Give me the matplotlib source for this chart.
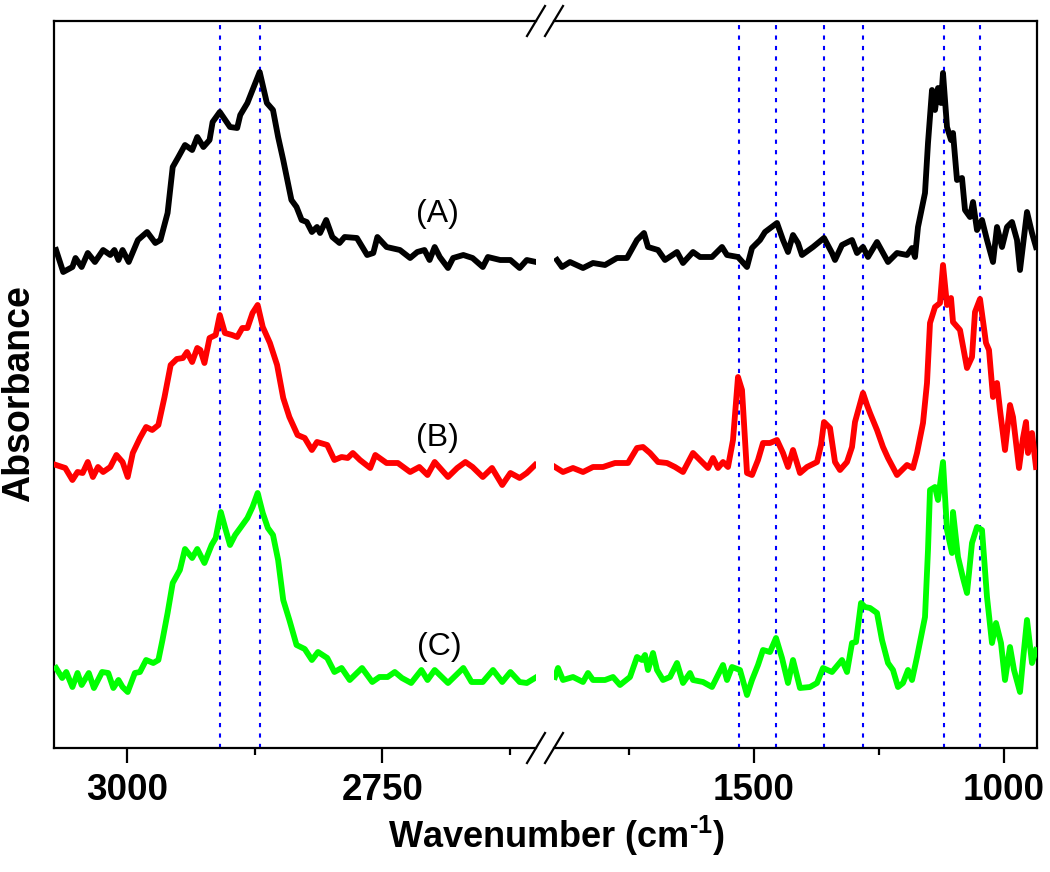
import matplotlib
matplotlib.use("Agg")
import matplotlib.pyplot as plt
from matplotlib.lines import Line2D

plt.rcParams['font.family'] = ['Liberation Sans', 'DejaVu Sans']
plt.rcParams['mathtext.fontset'] = 'custom'
plt.rcParams['mathtext.rm'] = 'Liberation Sans:bold'
plt.rcParams['mathtext.bf'] = 'Liberation Sans:bold'
plt.rcParams['mathtext.default'] = 'bf'

# ---------------- data (wavenumber in cm-1, absorbance in arbitrary offset units) -------------
# high-wavenumber segment (C-H stretching region)
wn_A_hi = [3069, 3062, 3053, 3050, 3044, 3038, 3031, 3023, 3016, 3012, 3008, 3004, 2998, 2989, 2980, 2972,
           2967, 2960, 2955, 2950, 2943, 2936, 2931, 2925, 2919, 2916, 2909, 2899, 2892, 2889, 2882, 2877,
           2870, 2863, 2857, 2852, 2847, 2839, 2834, 2829, 2824, 2819, 2814, 2811, 2805, 2799, 2792, 2787,
           2775, 2765, 2759, 2755, 2746, 2733, 2723, 2716, 2709, 2704, 2699, 2694, 2686, 2681, 2671, 2662,
           2652, 2647, 2635, 2625, 2616, 2609, 2600]
abs_A_hi = [4.98, 4.76, 4.81, 4.90, 4.81, 4.95, 4.86, 4.98, 4.93, 4.98, 4.88, 4.98, 4.86, 5.08, 5.16, 5.05,
            5.08, 5.35, 5.81, 5.90, 6.03, 5.98, 6.11, 6.01, 6.08, 6.26, 6.36, 6.21, 6.20, 6.33, 6.45, 6.58,
            6.76, 6.45, 6.38, 6.11, 5.88, 5.48, 5.41, 5.28, 5.26, 5.16, 5.21, 5.15, 5.28, 5.11, 5.05, 5.11,
            5.10, 4.93, 4.95, 5.11, 5.01, 4.98, 4.90, 4.96, 4.98, 4.88, 5.01, 4.91, 4.80, 4.90, 4.93, 4.90,
            4.81, 4.91, 4.88, 4.88, 4.80, 4.88, 4.86]

wn_B_hi = [3069, 3060, 3053, 3048, 3043, 3038, 3033, 3028, 3023, 3016, 3010, 3004, 2999, 2994, 2987, 2981,
           2975, 2969, 2963, 2957, 2951, 2945, 2941, 2936, 2931, 2928, 2924, 2919, 2913, 2909, 2904, 2897,
           2892, 2887, 2882, 2877, 2872, 2867, 2860, 2853, 2847, 2841, 2833, 2826, 2819, 2814, 2804, 2797,
           2790, 2784, 2779, 2772, 2762, 2757, 2746, 2735, 2723, 2714, 2706, 2699, 2686, 2677, 2669, 2662,
           2652, 2643, 2633, 2625, 2616, 2609, 2601]
abs_B_hi = [2.83, 2.80, 2.68, 2.76, 2.75, 2.86, 2.71, 2.81, 2.76, 2.81, 2.93, 2.86, 2.71, 2.95, 3.10, 3.21,
            3.18, 3.23, 3.51, 3.83, 3.89, 3.90, 3.96, 3.86, 4.00, 3.98, 3.85, 4.10, 4.13, 4.33, 4.15, 4.13,
            4.11, 4.20, 4.20, 4.35, 4.43, 4.21, 4.05, 3.83, 3.50, 3.31, 3.13, 3.10, 2.98, 3.06, 3.03, 2.88,
            2.91, 2.90, 2.95, 2.88, 2.80, 2.93, 2.85, 2.85, 2.76, 2.81, 2.73, 2.86, 2.71, 2.80, 2.86, 2.81,
            2.71, 2.80, 2.63, 2.75, 2.70, 2.75, 2.83]

wn_C_hi = [3069, 3063, 3059, 3053, 3048, 3044, 3037, 3032, 3024, 3018, 3013, 3008, 3004, 2999, 2992, 2987,
           2981, 2974, 2969, 2965, 2960, 2955, 2948, 2943, 2936, 2931, 2924, 2917, 2913, 2908, 2904, 2899,
           2894, 2889, 2882, 2877, 2872, 2867, 2862, 2857, 2852, 2847, 2841, 2834, 2826, 2819, 2813, 2804,
           2797, 2790, 2782, 2770, 2760, 2753, 2745, 2738, 2731, 2722, 2712, 2706, 2699, 2686, 2671, 2663,
           2652, 2642, 2633, 2625, 2616, 2609, 2601]
abs_C_hi = [0.80, 0.70, 0.76, 0.61, 0.75, 0.63, 0.75, 0.60, 0.76, 0.75, 0.60, 0.68, 0.61, 0.56, 0.75, 0.76,
            0.88, 0.85, 0.88, 1.08, 1.35, 1.65, 1.78, 1.99, 1.90, 1.99, 1.85, 2.03, 2.10, 2.36, 2.21, 2.03,
            2.13, 2.20, 2.30, 2.41, 2.55, 2.35, 2.20, 2.13, 1.88, 1.48, 1.28, 1.03, 0.99, 0.88, 0.96, 0.90,
            0.76, 0.80, 0.68, 0.80, 0.66, 0.71, 0.71, 0.76, 0.70, 0.65, 0.78, 0.68, 0.78, 0.65, 0.80, 0.66,
            0.66, 0.78, 0.66, 0.76, 0.66, 0.65, 0.70]

# low-wavenumber segment (fingerprint region)
wn_A_lo = [1894, 1884, 1868, 1842, 1822, 1798, 1774, 1754, 1734, 1720, 1712, 1692, 1678, 1654, 1642, 1622,
           1608, 1584, 1564, 1554, 1532, 1514, 1504, 1488, 1478, 1454, 1442, 1432, 1422, 1412, 1404, 1382,
           1360, 1344, 1338, 1324, 1304, 1294, 1282, 1272, 1254, 1232, 1214, 1194, 1184, 1178, 1172, 1158,
           1152, 1144, 1138, 1132, 1126, 1122, 1114, 1106, 1102, 1094, 1084, 1078, 1068, 1062, 1054, 1044,
           1034, 1022, 1014, 1004, 994, 984, 974, 968, 954, 944, 936]
abs_A_lo = [4.88, 4.81, 4.86, 4.80, 4.85, 4.83, 4.90, 4.90, 5.08, 5.15, 5.01, 4.98, 4.88, 4.96, 4.85, 4.96,
            4.91, 4.91, 5.01, 4.93, 4.91, 4.81, 5.00, 5.08, 5.16, 5.25, 5.08, 4.96, 5.13, 5.05, 4.93, 5.01,
            5.10, 4.95, 4.88, 5.03, 5.08, 4.95, 5.01, 4.91, 5.06, 4.86, 4.95, 4.93, 5.00, 4.91, 5.21, 5.55,
            6.05, 6.58, 6.38, 6.60, 6.45, 6.75, 6.21, 6.08, 6.15, 5.68, 5.70, 5.38, 5.31, 5.46, 5.18, 5.28,
            5.08, 4.86, 5.21, 5.01, 5.21, 5.26, 5.08, 4.78, 5.36, 5.15, 5.01]

wn_B_lo = [1898, 1882, 1862, 1842, 1822, 1802, 1778, 1752, 1734, 1722, 1708, 1692, 1674, 1658, 1642, 1622,
           1608, 1592, 1582, 1572, 1562, 1552, 1542, 1532, 1524, 1514, 1504, 1492, 1482, 1468, 1454, 1442,
           1432, 1422, 1408, 1394, 1374, 1366, 1360, 1348, 1338, 1328, 1314, 1304, 1298, 1282, 1274, 1268,
           1254, 1242, 1232, 1214, 1194, 1182, 1174, 1162, 1154, 1148, 1138, 1128, 1122, 1114, 1106, 1102,
           1088, 1074, 1064, 1058, 1048, 1036, 1030, 1022, 1014, 1008, 998, 988, 982, 970, 962, 956,
           952, 944, 936]
abs_B_lo = [2.81, 2.76, 2.80, 2.76, 2.81, 2.81, 2.85, 2.85, 3.00, 3.01, 2.95, 2.86, 2.85, 2.81, 2.76, 2.95,
            2.88, 2.80, 2.90, 2.80, 2.86, 2.81, 3.08, 3.71, 3.58, 2.75, 2.73, 2.88, 3.05, 3.05, 3.08, 2.95,
            2.81, 2.98, 2.75, 2.81, 2.86, 3.03, 3.26, 3.20, 2.86, 2.78, 2.86, 3.01, 3.26, 3.55, 3.43, 3.35,
            3.18, 3.01, 2.90, 2.73, 2.83, 2.80, 2.95, 3.25, 3.65, 4.25, 4.41, 4.45, 4.83, 4.43, 4.50, 4.26,
            4.18, 3.80, 3.91, 4.36, 4.49, 4.05, 3.98, 3.51, 3.65, 3.38, 2.98, 3.43, 3.31, 2.80, 3.10, 3.26,
            2.95, 3.15, 2.81]

wn_C_lo = [1898, 1892, 1882, 1862, 1842, 1832, 1822, 1798, 1782, 1768, 1748, 1734, 1724, 1718, 1712, 1702,
           1694, 1682, 1668, 1654, 1642, 1628, 1622, 1602, 1584, 1574, 1562, 1554, 1544, 1528, 1514, 1504,
           1492, 1482, 1468, 1456, 1444, 1432, 1422, 1408, 1388, 1374, 1362, 1344, 1324, 1314, 1304, 1296,
           1286, 1278, 1268, 1254, 1244, 1232, 1222, 1212, 1202, 1192, 1184, 1174, 1158, 1152, 1148, 1138,
           1132, 1122, 1114, 1104, 1102, 1092, 1082, 1074, 1064, 1054, 1044, 1034, 1024, 1016, 1006, 998,
           988, 980, 968, 962, 954, 944, 936]
abs_C_lo = [0.71, 0.80, 0.68, 0.71, 0.66, 0.75, 0.68, 0.68, 0.71, 0.63, 0.71, 0.91, 0.88, 0.93, 0.78, 0.95,
            0.78, 0.68, 0.71, 0.85, 0.65, 0.75, 0.68, 0.66, 0.61, 0.71, 0.83, 0.68, 0.81, 0.78, 0.53, 0.68,
            0.83, 0.98, 0.96, 1.10, 0.90, 0.65, 0.88, 0.60, 0.61, 0.65, 0.80, 0.76, 0.88, 0.76, 1.05, 1.06,
            1.45, 1.41, 1.40, 1.35, 1.08, 0.85, 0.78, 0.61, 0.65, 0.78, 0.68, 0.91, 1.31, 1.98, 2.58, 2.61,
            2.48, 2.86, 2.18, 1.95, 2.36, 1.91, 1.70, 1.55, 2.05, 2.21, 2.18, 1.51, 1.05, 1.25, 1.05, 0.68,
            1.01, 0.78, 0.56, 0.88, 1.28, 0.85, 0.98]

# marked band positions (dotted guide lines)
bands_hi = [2909, 2870]
bands_lo = [1531, 1456, 1360, 1282, 1120, 1049]

# curve labels
labels = ["(A)", "(B)", "(C)"]
label_wn = [2696, 2696, 2694]
label_abs = [5.34, 3.10, 1.01]

# axis ticks
ticks_hi = [3000, 2750]
minor_hi = [2875, 2625]
ticks_lo = [1500, 1000]
minor_lo = [1750, 1250]

colors = ["#000000", "#ff0000", "#00ff00"]

# ---------------- figure ----------------
W, H = 1050, 872
fig = plt.figure(figsize=(W / 100, H / 100), dpi=100)

def fx(px):
    return px / W

def fy(py):
    return 1 - py / H

top_px, bot_px = 21, 748
ax1 = fig.add_axes([fx(54), fy(bot_px), fx(536) - fx(54), fy(top_px) - fy(bot_px)])
ax2 = fig.add_axes([fx(554), fy(bot_px), fx(1037) - fx(554), fy(top_px) - fy(bot_px)])

ax1.set_xlim(3071, 2600)
ax2.set_xlim(1900, 934)
for ax in (ax1, ax2):
    ax.set_ylim(0, 7.27)
    ax.set_yticks([])
    for s in ax.spines.values():
        s.set_linewidth(1.6)
    ax.tick_params(axis='x', which='major', direction='out', length=11, width=1.6,
                   pad=7, labelsize=27)
    ax.tick_params(axis='x', which='minor', direction='out', length=5, width=1.6)

ax1.spines['right'].set_visible(False)
ax2.spines['left'].set_visible(False)

ax1.set_xticks(ticks_hi)
ax1.set_xticks(minor_hi, minor=True)
ax2.set_xticks(ticks_lo)
ax2.set_xticks(minor_lo, minor=True)
ax1.set_xticklabels([str(t) for t in ticks_hi], fontweight='bold', fontsize=26.5)
ax2.set_xticklabels([str(t) for t in ticks_lo], fontweight='bold', fontsize=26.5)

lw = 4.2
dot_style = (0, (2.0, 3.0))
for b in bands_hi:
    ax1.axvline(b, color='#0000ff', lw=1.5, linestyle=dot_style, zorder=1)
for b in bands_lo:
    ax2.axvline(b, color='#0000ff', lw=1.5, linestyle=dot_style, zorder=1)

ax1.plot(wn_A_hi, abs_A_hi, color=colors[0], lw=lw, solid_joinstyle='round', zorder=3)
ax1.plot(wn_B_hi, abs_B_hi, color=colors[1], lw=lw, solid_joinstyle='round', zorder=3)
ax1.plot(wn_C_hi, abs_C_hi, color=colors[2], lw=lw, solid_joinstyle='round', zorder=3)
ax2.plot(wn_A_lo, abs_A_lo, color=colors[0], lw=lw, solid_joinstyle='round', zorder=3)
ax2.plot(wn_B_lo, abs_B_lo, color=colors[1], lw=lw, solid_joinstyle='round', zorder=3)
ax2.plot(wn_C_lo, abs_C_lo, color=colors[2], lw=lw, solid_joinstyle='round', zorder=3)

for t, x, y in zip(labels, label_wn, label_abs):
    ax1.text(x, y, t, fontsize=23, ha='center', va='center')

# axis break marks
for yc in (top_px, bot_px):
    for x0 in (527, 545):
        fig.add_artist(Line2D([fx(x0), fx(x0 + 18)], [fy(yc + 15), fy(yc - 15)],
                              color='black', lw=1.6, transform=fig.transFigure))

fig.text(fx(557), fy(836), r'Wavenumber (cm$^{\text{-1}}$)', fontsize=26, fontweight='bold',
         ha='center', va='center')
fig.text(fx(19), fy(394), 'Absorbance', fontsize=27, fontweight='bold', rotation=90,
         ha='center', va='center')

fig.savefig('out.png', dpi=100)
